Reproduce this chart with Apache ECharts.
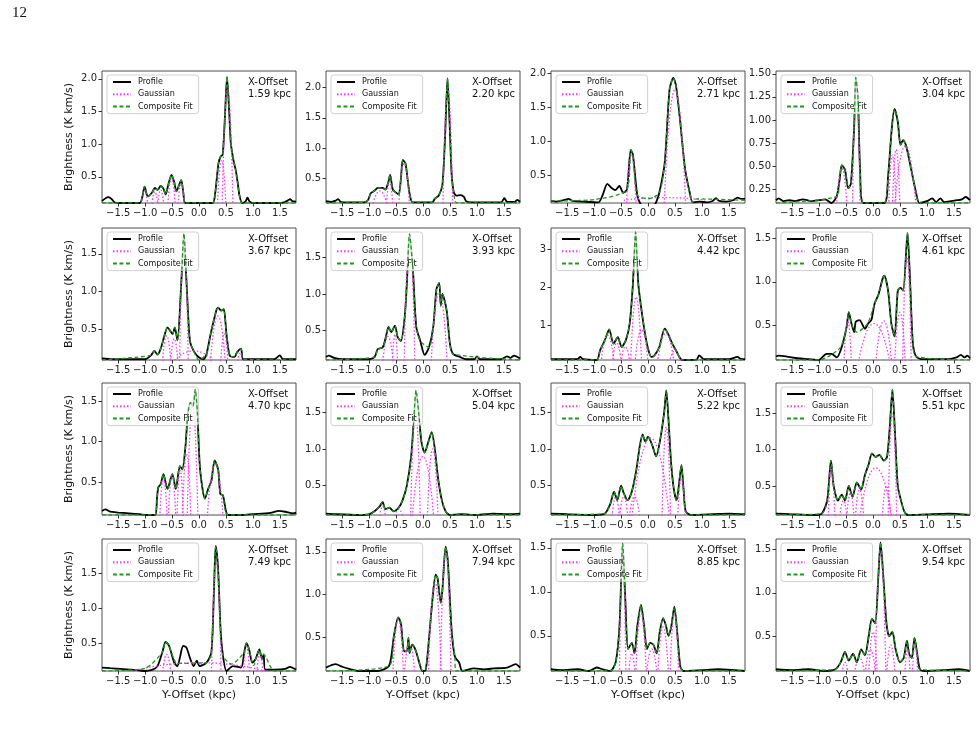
<!doctype html>
<html lang="en">
<head>
<meta charset="UTF-8">
<title>Brightness profiles</title>
<script src="https://cdn.jsdelivr.net/npm/echarts@6.0.0/dist/echarts.min.js"></script>
<style>
  html, body { margin: 0; padding: 0; background: #fff; }
  #main { width: 976px; height: 729px; }
</style>
</head>
<body>
<div id="main"></div>
<script type="text/javascript">
// ---- data ----
var offsets = ['1.59', '2.20', '2.71', '3.04', '3.67', '3.93', '4.42', '4.61',
               '4.70', '5.04', '5.22', '5.51', '7.49', '7.94', '8.85', '9.54'];
var xTicks = [-1.5, -1.0, -0.5, 0.0, 0.5, 1.0, 1.5];
var yMax = [2.12, 2.27, 2.03, 1.53, 1.84, 1.9, 3.56, 1.62, 1.72, 1.9, 1.9, 1.92, 2.0, 1.65, 1.6, 1.62];
var yMin = [0.1, 0.1, 0.09, 0.1, 0.1, 0.1, 0.1, 0.1, 0.1, 0.1, 0.1, 0.1, 0.1, 0.1, 0.1, 0.1];
var ticksA = [0.5, 1.0, 1.5, 2.0];
var ticksB = [0.5, 1.0, 1.5];
var ticksC = [0.25, 0.5, 0.75, 1.0, 1.25, 1.5];
var ticksD = [1, 2, 3];
var yTicks = [ticksA, ticksA, ticksA, ticksC, ticksB, ticksB, ticksD, ticksB,
              ticksB, ticksB, ticksB, ticksB, ticksB, ticksB, ticksB, ticksB];
var yDec = [1, 1, 1, 2, 1, 1, 0, 1, 1, 1, 1, 1, 1, 1, 1, 1];

// profiles [y-offset kpc, brightness]
var profile1 = [[-1.8,0.13],[-1.74,0.17],[-1.68,0.19],[-1.62,0.16],[-1.57,0.11],[-1.5,0.1],[-1.1,0.1],[-1.05,0.2],[-1.01,0.35],[-0.95,0.2],[-0.87,0.26],[-0.82,0.33],[-0.77,0.3],[-0.71,0.36],[-0.66,0.32],[-0.62,0.23],[-0.57,0.38],[-0.51,0.53],[-0.46,0.42],[-0.42,0.28],[-0.33,0.45],[-0.29,0.25],[-0.25,0.1],[0.25,0.1],[0.3,0.25],[0.36,0.7],[0.4,0.81],[0.44,0.84],[0.48,1.4],[0.52,2.03],[0.56,1.5],[0.59,1.02],[0.64,0.75],[0.68,0.61],[0.72,0.4],[0.75,0.22],[0.8,0.1],[0.86,0.12],[0.9,0.18],[0.94,0.12],[1.0,0.1],[1.45,0.1],[1.58,0.11],[1.65,0.14],[1.69,0.16],[1.73,0.13],[1.8,0.12]];
var profile2 = [[-1.8,0.13],[-1.7,0.12],[-1.62,0.14],[-1.575,0.165],[-1.53,0.12],[-1.4,0.11],[-1.1,0.11],[-1.02,0.15],[-0.97,0.26],[-0.9,0.3],[-0.84,0.35],[-0.75,0.35],[-0.7,0.32],[-0.65,0.42],[-0.61,0.56],[-0.56,0.32],[-0.5,0.27],[-0.45,0.24],[-0.41,0.5],[-0.375,0.81],[-0.325,0.75],[-0.28,0.45],[-0.25,0.26],[-0.19,0.11],[0.17,0.11],[0.22,0.17],[0.29,0.22],[0.36,0.4],[0.41,1.2],[0.455,2.15],[0.49,1.5],[0.53,0.6],[0.57,0.28],[0.62,0.22],[0.7,0.23],[0.76,0.2],[0.8,0.13],[0.9,0.11],[1.45,0.11],[1.51,0.18],[1.56,0.12],[1.7,0.12],[1.75,0.15],[1.8,0.12]];
var profile3 = [[-1.8,0.12],[-1.7,0.11],[-1.58,0.13],[-1.47,0.15],[-1.4,0.12],[-1.2,0.11],[-0.92,0.1],[-0.84,0.21],[-0.755,0.37],[-0.675,0.31],[-0.61,0.28],[-0.53,0.34],[-0.46,0.24],[-0.39,0.29],[-0.32,0.87],[-0.28,0.8],[-0.2,0.21],[-0.14,0.08],[-0.05,0.04],[0.1,0.05],[0.15,0.1],[0.21,0.24],[0.31,0.68],[0.4,1.76],[0.47,1.93],[0.52,1.81],[0.6,1.27],[0.63,1.02],[0.69,0.58],[0.77,0.26],[0.83,0.1],[0.95,0.11],[1.1,0.1],[1.2,0.12],[1.26,0.16],[1.32,0.12],[1.45,0.11],[1.58,0.13],[1.66,0.17],[1.73,0.15],[1.8,0.15]];
var profile4 = [[-1.8,0.13],[-1.75,0.15],[-1.66,0.12],[-1.55,0.13],[-1.45,0.12],[-1.3,0.14],[-1.15,0.12],[-1.0,0.13],[-0.89,0.14],[-0.77,0.1],[-0.675,0.17],[-0.62,0.35],[-0.58,0.51],[-0.52,0.46],[-0.46,0.26],[-0.41,0.31],[-0.35,0.92],[-0.32,1.46],[-0.28,1.25],[-0.24,0.46],[-0.18,0.1],[0.21,0.1],[0.28,0.39],[0.35,0.92],[0.4,1.12],[0.46,0.98],[0.51,0.73],[0.56,0.78],[0.61,0.73],[0.71,0.46],[0.8,0.21],[0.86,0.1],[1.0,0.12],[1.1,0.15],[1.17,0.11],[1.25,0.15],[1.32,0.11],[1.45,0.12],[1.56,0.13],[1.65,0.14],[1.72,0.165],[1.8,0.13]];
var profile5 = [[-1.8,0.12],[-1.6,0.11],[-1.3,0.11],[-1.0,0.11],[-0.89,0.16],[-0.83,0.22],[-0.77,0.17],[-0.71,0.25],[-0.65,0.4],[-0.585,0.53],[-0.54,0.49],[-0.49,0.44],[-0.45,0.53],[-0.4,0.36],[-0.33,1.1],[-0.28,1.77],[-0.23,1.1],[-0.17,0.36],[-0.1,0.22],[-0.01,0.14],[0.08,0.11],[0.14,0.18],[0.215,0.44],[0.32,0.75],[0.355,0.79],[0.415,0.75],[0.46,0.77],[0.51,0.44],[0.57,0.16],[0.66,0.14],[0.705,0.2],[0.78,0.25],[0.82,0.11],[1.0,0.11],[1.4,0.11],[1.5,0.16],[1.56,0.11],[1.8,0.11]];
var profile6 = [[-1.8,0.14],[-1.75,0.16],[-1.65,0.13],[-1.5,0.11],[-1.03,0.11],[-0.9,0.14],[-0.84,0.25],[-0.75,0.27],[-0.69,0.41],[-0.64,0.55],[-0.59,0.48],[-0.52,0.57],[-0.47,0.41],[-0.41,0.36],[-0.34,0.68],[-0.3,1.14],[-0.25,1.82],[-0.19,1.36],[-0.125,0.55],[-0.05,0.36],[0.03,0.17],[0.11,0.27],[0.19,0.55],[0.25,1.07],[0.3,1.15],[0.33,0.84],[0.36,1.0],[0.44,0.77],[0.5,0.32],[0.56,0.18],[0.69,0.14],[0.8,0.11],[0.95,0.11],[1.0,0.15],[1.05,0.11],[1.45,0.11],[1.56,0.15],[1.62,0.13],[1.69,0.16],[1.8,0.12]];
var profile7 = [[-1.8,0.12],[-1.5,0.12],[-1.3,0.13],[-1.26,0.18],[-1.2,0.12],[-0.95,0.1],[-0.89,0.35],[-0.8,0.62],[-0.72,0.9],[-0.64,0.53],[-0.56,0.7],[-0.49,0.44],[-0.41,0.62],[-0.34,1.05],[-0.28,2.1],[-0.23,3.45],[-0.18,2.1],[-0.12,1.4],[-0.06,0.83],[0.0,0.4],[0.06,0.18],[0.12,0.22],[0.21,0.44],[0.31,0.92],[0.37,0.79],[0.45,0.53],[0.52,0.35],[0.58,0.18],[0.64,0.1],[0.9,0.11],[0.95,0.22],[1.04,0.12],[1.5,0.12],[1.66,0.18],[1.72,0.13],[1.8,0.12]];
var profile8 = [[-1.8,0.14],[-1.75,0.15],[-1.6,0.14],[-1.4,0.12],[-1.2,0.11],[-1.01,0.1],[-0.86,0.17],[-0.77,0.17],[-0.67,0.13],[-0.58,0.25],[-0.49,0.48],[-0.45,0.65],[-0.4,0.52],[-0.35,0.42],[-0.32,0.54],[-0.25,0.56],[-0.15,0.46],[-0.09,0.52],[-0.03,0.56],[0.03,0.75],[0.1,0.85],[0.18,1.04],[0.21,1.07],[0.28,0.9],[0.34,0.52],[0.4,0.37],[0.46,0.9],[0.51,0.93],[0.56,0.9],[0.64,1.56],[0.69,0.98],[0.74,0.29],[0.8,0.14],[0.9,0.11],[1.4,0.11],[1.55,0.13],[1.63,0.16],[1.7,0.13],[1.75,0.15],[1.8,0.12]];
var profile9 = [[-1.8,0.15],[-1.74,0.17],[-1.65,0.14],[-1.5,0.13],[-1.3,0.12],[-1.1,0.11],[-0.98,0.1],[-0.815,0.1],[-0.78,0.3],[-0.755,0.44],[-0.71,0.48],[-0.66,0.6],[-0.585,0.42],[-0.495,0.6],[-0.43,0.42],[-0.355,0.7],[-0.31,0.66],[-0.25,0.95],[-0.21,1.32],[-0.16,1.48],[-0.11,1.44],[-0.07,1.64],[-0.03,1.36],[0.02,0.66],[0.11,0.3],[0.17,0.42],[0.23,0.52],[0.29,0.77],[0.355,0.66],[0.395,0.36],[0.445,0.34],[0.54,0.1],[0.8,0.1],[1.0,0.11],[1.23,0.12],[1.35,0.13],[1.48,0.15],[1.6,0.14],[1.75,0.12],[1.8,0.13]];
var profile10 = [[-1.8,0.12],[-1.6,0.11],[-1.2,0.1],[-1.0,0.11],[-0.9,0.15],[-0.8,0.22],[-0.75,0.28],[-0.7,0.18],[-0.62,0.2],[-0.55,0.15],[-0.45,0.2],[-0.38,0.3],[-0.3,0.5],[-0.22,0.9],[-0.17,1.4],[-0.13,1.8],[-0.08,1.5],[-0.03,1.1],[0.03,0.95],[0.1,1.1],[0.16,1.23],[0.22,1.0],[0.28,0.6],[0.35,0.3],[0.42,0.15],[0.5,0.1],[0.7,0.11],[1.0,0.1],[1.3,0.12],[1.6,0.11],[1.8,0.12]];
var profile11 = [[-1.8,0.12],[-1.5,0.11],[-1.0,0.1],[-0.8,0.12],[-0.7,0.25],[-0.63,0.42],[-0.57,0.3],[-0.5,0.5],[-0.45,0.4],[-0.38,0.3],[-0.3,0.42],[-0.22,0.7],[-0.15,1.05],[-0.1,1.2],[-0.05,1.1],[0.0,1.17],[0.08,1.05],[0.15,0.9],[0.22,1.1],[0.3,1.5],[0.34,1.8],[0.38,1.4],[0.43,0.8],[0.48,0.45],[0.53,0.3],[0.58,0.55],[0.62,0.78],[0.66,0.45],[0.7,0.15],[0.8,0.1],[1.2,0.11],[1.5,0.12],[1.8,0.11]];
var profile12 = [[-1.8,0.12],[-1.5,0.11],[-1.1,0.1],[-0.95,0.12],[-0.85,0.3],[-0.78,0.85],[-0.73,0.5],[-0.65,0.3],[-0.58,0.38],[-0.52,0.3],[-0.45,0.5],[-0.38,0.35],[-0.3,0.55],[-0.22,0.45],[-0.15,0.65],[-0.08,0.8],[-0.02,0.95],[0.05,0.9],[0.12,0.93],[0.2,0.85],[0.26,0.9],[0.31,1.3],[0.36,1.83],[0.41,1.2],[0.46,0.5],[0.52,0.3],[0.58,0.15],[0.65,0.1],[1.0,0.11],[1.4,0.12],[1.8,0.1]];
var profile13 = [[-1.8,0.15],[-1.65,0.14],[-1.45,0.13],[-1.25,0.12],[-1.01,0.1],[-0.86,0.12],[-0.77,0.17],[-0.68,0.37],[-0.62,0.52],[-0.555,0.46],[-0.46,0.22],[-0.4,0.17],[-0.355,0.29],[-0.295,0.46],[-0.235,0.44],[-0.16,0.27],[-0.1,0.17],[-0.04,0.25],[0.01,0.17],[0.14,0.22],[0.23,0.37],[0.28,1.32],[0.31,1.9],[0.355,1.56],[0.4,0.7],[0.445,0.32],[0.51,0.1],[0.63,0.17],[0.78,0.15],[0.84,0.37],[0.88,0.5],[0.93,0.41],[0.99,0.22],[1.05,0.27],[1.12,0.41],[1.17,0.27],[1.2,0.34],[1.23,0.12],[1.41,0.12],[1.6,0.13],[1.69,0.16],[1.8,0.12]];
var profile14 = [[-1.8,0.14],[-1.62,0.18],[-1.5,0.15],[-1.34,0.12],[-1.2,0.1],[-0.85,0.1],[-0.63,0.16],[-0.54,0.51],[-0.46,0.73],[-0.41,0.66],[-0.35,0.33],[-0.3,0.33],[-0.27,0.49],[-0.25,0.31],[-0.2,0.41],[-0.14,0.35],[-0.07,0.2],[-0.01,0.1],[0.05,0.11],[0.11,0.47],[0.17,0.9],[0.235,1.23],[0.27,1.19],[0.33,0.9],[0.36,1.05],[0.42,1.56],[0.46,1.4],[0.53,0.59],[0.59,0.27],[0.67,0.2],[0.73,0.1],[0.95,0.13],[1.13,0.12],[1.32,0.13],[1.56,0.14],[1.72,0.18],[1.8,0.14]];
var profile15 = [[-1.8,0.12],[-1.6,0.11],[-1.3,0.12],[-1.1,0.1],[-0.95,0.14],[-0.85,0.12],[-0.7,0.1],[-0.6,0.2],[-0.53,0.6],[-0.47,1.55],[-0.42,0.9],[-0.37,0.35],[-0.3,0.42],[-0.25,0.3],[-0.2,0.6],[-0.13,0.85],[-0.07,0.6],[-0.02,0.35],[0.04,0.42],[0.1,0.4],[0.16,0.3],[0.22,0.55],[0.28,0.7],[0.33,0.62],[0.38,0.5],[0.43,0.6],[0.49,0.83],[0.54,0.55],[0.6,0.15],[0.66,0.1],[1.0,0.11],[1.3,0.12],[1.6,0.11],[1.8,0.1]];
var profile16 = [[-1.8,0.12],[-1.5,0.11],[-1.2,0.12],[-0.9,0.1],[-0.7,0.12],[-0.6,0.2],[-0.52,0.32],[-0.45,0.22],[-0.37,0.3],[-0.3,0.2],[-0.22,0.35],[-0.15,0.28],[-0.08,0.5],[-0.02,0.7],[0.04,0.65],[0.1,1.2],[0.14,1.58],[0.19,1.2],[0.25,0.65],[0.3,0.5],[0.36,0.55],[0.42,0.35],[0.5,0.2],[0.57,0.25],[0.63,0.45],[0.67,0.3],[0.72,0.25],[0.77,0.48],[0.82,0.3],[0.87,0.12],[0.95,0.1],[1.3,0.11],[1.6,0.12],[1.8,0.1]];

// gaussian components [centre, half-width at base, peak, (base)]
var gauss1 = [[-1.01,0.06,0.3],[-0.82,0.06,0.27],[-0.71,0.06,0.3],[-0.51,0.07,0.48],[-0.33,0.06,0.4],[0.42,0.08,0.75],[0.53,0.1,1.85]];
var gauss2 = [[-0.8,0.14,0.3],[-0.62,0.06,0.45],[-0.35,0.1,0.75],[0.46,0.09,2.0]];
var gauss3 = [[-0.31,0.09,0.8],[0.5,0.2,1.75],[0.3,0.75,0.17,0.13]];
var gauss4 = [[-0.58,0.1,0.48],[-0.31,0.07,1.4],[0.36,0.07,0.62],[0.43,0.07,0.68],[0.6,0.2,0.72]];
var gauss5 = [[-0.6,0.08,0.42],[-0.46,0.07,0.38],[-0.28,0.08,1.7],[-0.1,0.35,0.22,0.1],[0.35,0.14,0.68],[0.47,0.07,0.45],[0.76,0.05,0.2]];
var gauss6 = [[-0.65,0.1,0.42],[-0.52,0.05,0.45],[-0.25,0.1,1.75],[0.3,0.15,1.02]];
var gauss7 = [[-0.75,0.12,0.75],[-0.58,0.08,0.55],[-0.42,0.08,0.45],[-0.22,0.1,1.75],[-0.12,0.12,0.9],[0.33,0.15,0.8],[0.5,0.1,0.35]];
var gauss8 = [[-0.47,0.07,0.55],[0.02,0.3,0.52],[0.2,0.15,0.55],[0.5,0.1,0.65],[0.63,0.08,1.3]];
var gauss9 = [[-0.66,0.07,0.55],[-0.5,0.07,0.6],[-0.35,0.06,0.65],[-0.23,0.08,0.85],[-0.12,0.1,1.45],[0.3,0.15,0.72]];
var gauss10 = [[-0.75,0.06,0.22],[-0.45,0.08,0.18],[-0.14,0.09,1.5],[0.0,0.2,0.9],[0.18,0.1,1.0]];
var gauss11 = [[-0.6,0.07,0.35],[-0.45,0.08,0.35],[-0.25,0.1,0.35],[0.05,0.35,1.15],[0.34,0.08,1.3],[0.62,0.07,0.6]];
var gauss12 = [[-0.77,0.06,0.75],[-0.55,0.07,0.3],[-0.42,0.07,0.4],[-0.25,0.08,0.45],[0.05,0.3,0.75],[0.25,0.08,0.5],[0.36,0.08,1.5]];
var gauss13 = [[0.0,1.3,0.22,0.08],[-0.6,0.08,0.34],[0.32,0.09,1.65],[0.88,0.06,0.45],[1.13,0.06,0.35]];
var gauss14 = [[-0.46,0.1,0.7],[-0.25,0.1,0.42],[0.22,0.12,1.15],[0.42,0.1,1.5]];
var gauss15 = [[-0.47,0.06,1.4],[-0.3,0.06,0.3],[-0.13,0.1,0.75],[0.07,0.1,0.35],[0.28,0.1,0.6],[0.49,0.08,0.75]];
var gauss16 = [[-0.52,0.06,0.2],[-0.25,0.1,0.25],[-0.05,0.1,0.35],[0.0,0.08,0.55],[0.14,0.1,1.45],[0.33,0.08,0.4],[0.64,0.05,0.35],[0.78,0.05,0.4]];

// composite fit: ranges where it follows the profile, and its baseline elsewhere
var flatBase = [[-1.8,0.1],[0.0,0.1],[1.8,0.1]];
var fitSeg1 = [[-1.1,-0.25],[0.25,0.8]];
var fitSeg2 = [[-1.1,-0.19],[0.17,0.6]];
var fitBase2 = [[-1.8,0.1],[0.0,0.1],[0.63,0.1],[1.8,0.1]];
var fitSeg3 = [[-0.42,-0.16],[0.2,0.85]];
var fitBase3 = [[-1.8,0.12],[-1.0,0.14],[-0.42,0.15],[0.0,0.15],[0.9,0.15],[1.8,0.13]];
var fitSeg4 = [[-0.7,-0.18],[0.21,0.86]];
var fitSeg5 = [[-0.95,-0.05],[0.12,0.85]];
var fitSeg6 = [[-0.9,0.0],[0.1,0.6]];
var fitSeg7 = [[-0.95,0.1],[0.12,0.65]];
var fitSeg8 = [[-0.5,-0.4],[0.0,0.8]];
var fitBase8 = [[-1.8,0.1],[-1.0,0.1],[-0.8,0.15],[-0.6,0.25],[-0.3,0.42],[-0.1,0.52],[1.8,0.1]];
var fitSeg9 = [[-0.82,0.55]];
var fitSeg10 = [[-1.0,0.5]];
var fitSeg11 = [[-0.8,0.8]];
var fitSeg12 = [[-0.95,0.65]];
var fitSeg13 = [[-0.72,-0.48],[0.2,0.48],[0.8,1.0],[1.05,1.22]];
var fitBase13 = [[-1.8,0.1],[-1.0,0.14],[-0.4,0.21],[0.14,0.22],[0.6,0.2],[1.02,0.18],[1.4,0.1],[1.8,0.1]];
var fitSeg14 = [[-0.65,-0.05],[0.05,0.6]];
var fitBase14 = [[-1.8,0.1],[0.0,0.1],[0.61,0.1],[1.8,0.1]];
var fitSeg15 = [[-0.7,0.66]];
var fitSeg16 = [[-0.7,0.9]];

var profiles = [profile1, profile2, profile3, profile4, profile5, profile6, profile7, profile8,
                profile9, profile10, profile11, profile12, profile13, profile14, profile15, profile16];
var gaussians = [gauss1, gauss2, gauss3, gauss4, gauss5, gauss6, gauss7, gauss8,
                 gauss9, gauss10, gauss11, gauss12, gauss13, gauss14, gauss15, gauss16];
var fitSegs = [fitSeg1, fitSeg2, fitSeg3, fitSeg4, fitSeg5, fitSeg6, fitSeg7, fitSeg8,
               fitSeg9, fitSeg10, fitSeg11, fitSeg12, fitSeg13, fitSeg14, fitSeg15, fitSeg16];
var fitBases = [flatBase, fitBase2, fitBase3, flatBase, flatBase, flatBase, flatBase, fitBase8,
                flatBase, flatBase, flatBase, flatBase, fitBase13, fitBase14, flatBase, flatBase];

// ---- layout ----
var lefts = [102, 326, 551, 776];
var tops = [71, 228, 383, 539];
var W = 194, H = 132;
var FONT = 'DejaVu Sans';

function fmt(dec) {
    return function (v) {
        var s = Math.abs(v).toFixed(dec);
        return v < 0 ? '\u2212' + s : s;
    };
}

function compositeData(prof, segs, base) {
    function inSeg(x) {
        return segs.some(function (s) { return x >= s[0] && x <= s[1]; });
    }
    var pts = base.filter(function (p) { return !inSeg(p[0]); })
        .concat(prof.filter(function (p) { return inSeg(p[0]); }));
    pts.sort(function (a, b) { return a[0] - b[0]; });
    return pts;
}

var myChart = echarts.init(document.getElementById('main'));
var grid = [], xAxis = [], yAxis = [], series = [], legend = [], graphic = [];

graphic.push({
    type: 'text', left: 12, top: 6,
    style: { text: '12', font: '15px "Liberation Serif", "DejaVu Serif", serif', fill: '#111' }
});

for (var i = 0; i < 16; i++) {
    var c = i % 4, r = Math.floor(i / 4);
    grid.push({
        left: lefts[c], top: tops[r], width: W, height: H,
        show: true, borderColor: '#3a3a3a', borderWidth: 0.9, backgroundColor: 'transparent'
    });
    xAxis.push({
        type: 'value', gridIndex: i, min: -1.8, max: 1.8,
        name: r === 3 ? 'Y-Offset (kpc)' : '',
        nameLocation: 'middle', nameGap: 19,
        nameTextStyle: { fontFamily: FONT, fontSize: 11, color: '#111' },
        axisLine: { show: false, onZero: false },
        splitLine: { show: false },
        axisTick: { show: true, length: 3.5, customValues: xTicks, lineStyle: { color: '#333' } },
        axisLabel: { customValues: xTicks, formatter: fmt(1), margin: 5,
                     fontFamily: FONT, fontSize: 10, color: '#222' }
    });
    yAxis.push({
        type: 'value', gridIndex: i, min: yMin[i], max: yMax[i],
        name: c === 0 ? 'Brightness (K km/s)' : '',
        nameLocation: 'middle', nameGap: 27, nameRotate: 90,
        nameTextStyle: { fontFamily: FONT, fontSize: 11, color: '#111' },
        axisLine: { show: false, onZero: false },
        splitLine: { show: false },
        axisTick: { show: true, length: 3.5, customValues: yTicks[i], lineStyle: { color: '#333' } },
        axisLabel: { customValues: yTicks[i], formatter: fmt(yDec[i]), margin: 5,
                     fontFamily: FONT, fontSize: 10, color: '#222' }
    });

    series.push({
        name: 'Profile', type: 'line', xAxisIndex: i, yAxisIndex: i,
        data: profiles[i], symbol: 'none', smooth: 0.25,
        lineStyle: { color: '#000', width: 1.8 }, itemStyle: { color: '#000' },
        animation: false, z: 2
    });
    gaussians[i].forEach(function (g) {
        var b = g.length > 3 ? g[3] : 0.04;
        series.push({
            name: 'Gaussian', type: 'line', xAxisIndex: i, yAxisIndex: i,
            data: [[g[0] - g[1], b], [g[0], g[2]], [g[0] + g[1], b]],
            symbol: 'none', smooth: 0.6,
            lineStyle: { color: '#ff33ff', width: 1.3, type: [1.5, 2] },
            itemStyle: { color: '#ff33ff' },
            animation: false, z: 3
        });
    });
    series.push({
        name: 'Composite Fit', type: 'line', xAxisIndex: i, yAxisIndex: i,
        data: compositeData(profiles[i], fitSegs[i], fitBases[i]),
        symbol: 'none', smooth: 0.25,
        lineStyle: { color: '#1f9a1f', width: 1.3, type: [4, 2.5] },
        itemStyle: { color: '#1f9a1f' },
        animation: false, z: 4
    });

    legend.push({
        left: lefts[c] + 5, top: tops[r] + 4, orient: 'vertical',
        data: ['Profile', 'Gaussian', 'Composite Fit'],
        selectedMode: false, itemWidth: 18, itemHeight: 8, itemGap: 4.3,
        padding: [3, 6, 3, 5],
        itemStyle: { opacity: 0, borderWidth: 0 },
        backgroundColor: 'rgba(255,255,255,0.8)', borderColor: '#d0d0d0',
        borderWidth: 1, borderRadius: 3,
        textStyle: { fontFamily: FONT, fontSize: 8, color: '#111', padding: [0, 0, 0, 2] }
    });

    graphic.push({
        type: 'text', left: lefts[c] + 146, top: tops[r] + 5, z: 10,
        style: { text: 'X-Offset\n' + offsets[i] + ' kpc', font: '10px "DejaVu Sans"',
                 fill: '#111', lineHeight: 12 }
    });
}

var option = {
    animation: false,
    textStyle: { fontFamily: FONT },
    grid: grid,
    xAxis: xAxis,
    yAxis: yAxis,
    legend: legend,
    graphic: graphic,
    series: series
};
myChart.setOption(option);
</script>
</body>
</html>
